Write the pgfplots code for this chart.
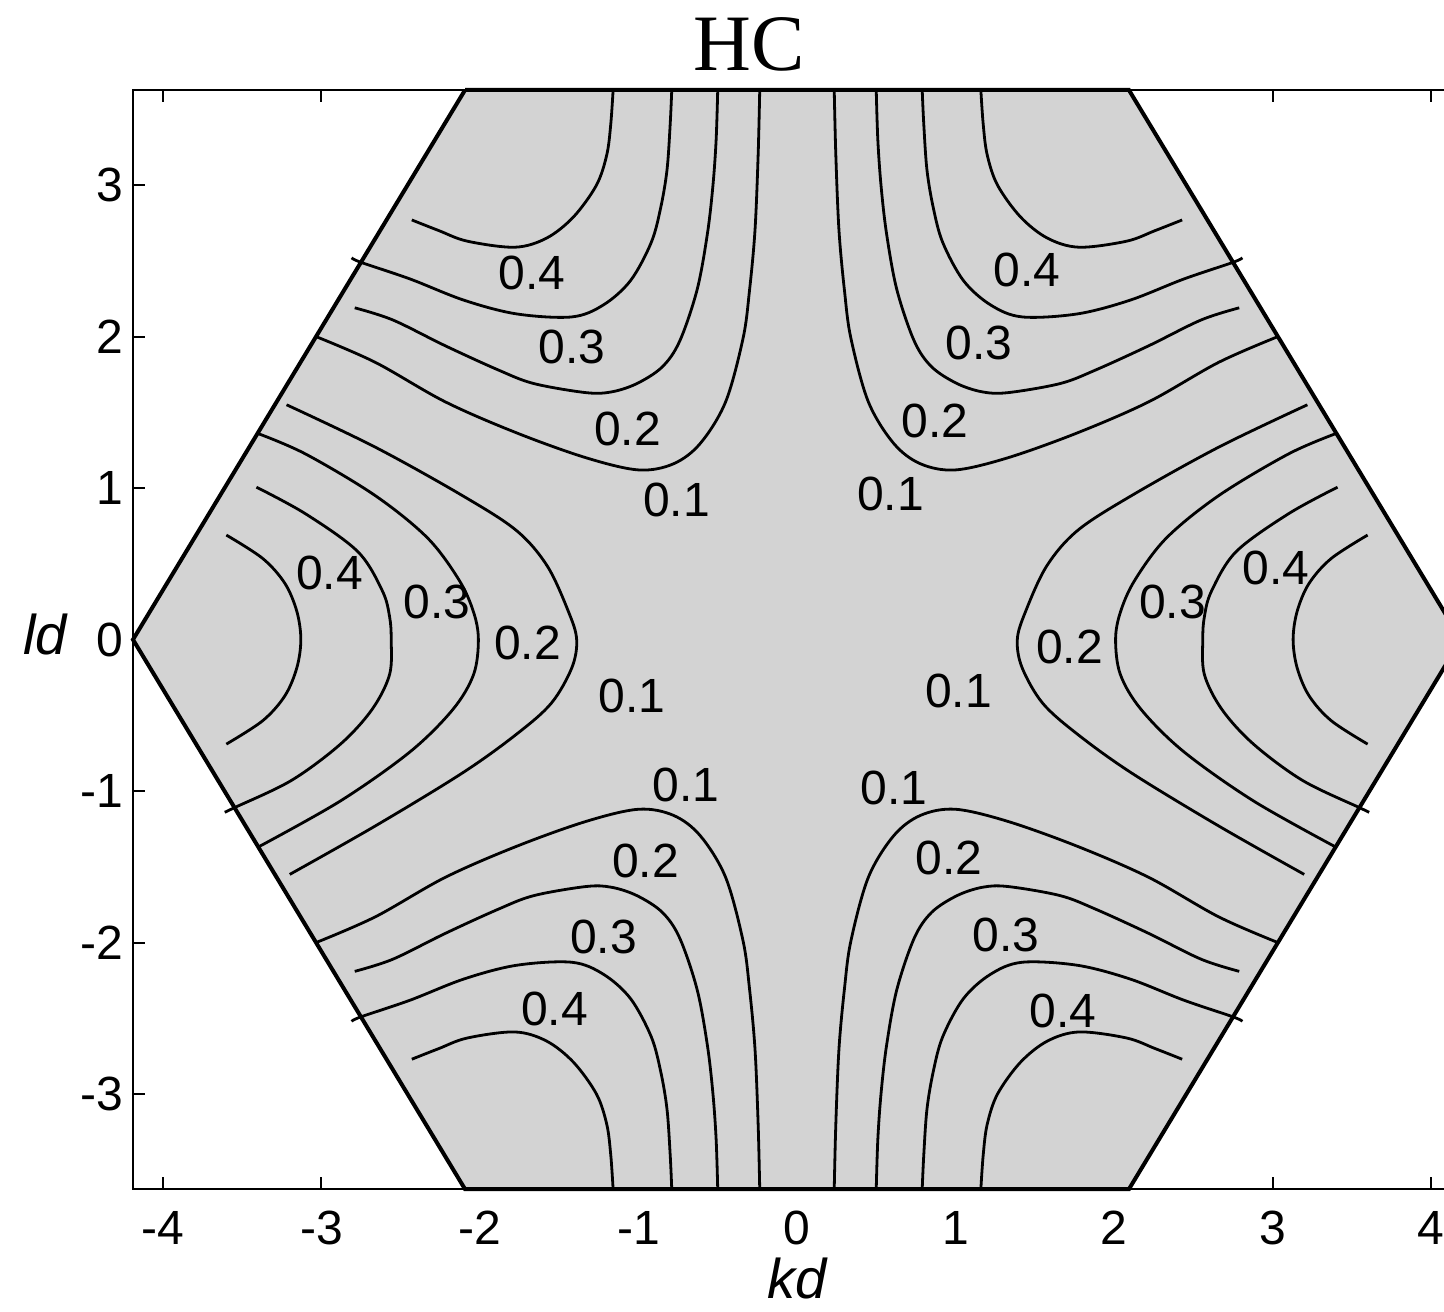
\documentclass[border=0pt]{standalone}
\usepackage{fontspec}
\setmainfont{Liberation Sans}
\newfontfamily\titlefont{Liberation Serif}
\usepackage{pgfplots}
\pgfplotsset{compat=1.18}
\usepackage{pgfplotstable}

\definecolor{zonegray}{RGB}{211,211,211}

% Contours around the upper-left zone corner (x<0, y>0); the other three
% corners are the mirror images.
\pgfplotstableread{
x y
-1.160 3.628
-1.175 3.400
-1.200 3.200
-1.265 3.000
-1.410 2.790
-1.580 2.650
-1.780 2.590
-2.080 2.630
-2.260 2.700
-2.430 2.770
}\tlfour
\pgfplotstableread{
x y
-0.790 3.628
-0.800 3.400
-0.820 3.100
-0.860 2.850
-0.920 2.620
-1.050 2.370
-1.220 2.210
-1.420 2.130
-1.770 2.150
-2.100 2.240
-2.440 2.380
-2.750 2.490
-2.810 2.520
}\tlthree
\pgfplotstableread{
x y
-0.500 3.628
-0.510 3.300
-0.530 3.000
-0.565 2.680
-0.630 2.310
-0.740 1.970
-0.850 1.800
-1.010 1.690
-1.170 1.635
-1.330 1.630
-1.660 1.690
-1.885 1.780
-2.220 1.940
-2.550 2.110
-2.790 2.190
}\tltwo
\pgfplotstableread{
x y
-0.235 3.628
-0.245 3.200
-0.265 2.700
-0.300 2.300
-0.340 1.990
-0.450 1.570
-0.610 1.295
-0.780 1.160
-1.000 1.120
-1.330 1.200
-1.770 1.365
-2.220 1.570
-2.660 1.830
-3.034 2.000
}\tlone

% Contours around the left zone corner (x<0); mirrored to the right corner.
\pgfplotstableread{
x y
-3.600 0.690
-3.370 0.535
-3.230 0.370
-3.155 0.185
-3.130 0.000
-3.155 -0.185
-3.230 -0.370
-3.370 -0.535
-3.600 -0.690
}\lfour
\pgfplotstableread{
x y
-3.410 1.006
-3.100 0.830
-2.770 0.580
-2.615 0.320
-2.570 0.150
-2.560 0.000
-2.570 -0.230
-2.680 -0.460
-2.880 -0.690
-3.190 -0.930
-3.550 -1.110
-3.610 -1.140
}\lthree
\pgfplotstableread{
x y
-3.400 1.360
-3.100 1.225
-2.660 0.950
-2.330 0.670
-2.130 0.390
-2.040 0.180
-2.010 0.000
-2.040 -0.230
-2.170 -0.460
-2.440 -0.740
-2.880 -1.065
-3.400 -1.370
}\ltwo
\pgfplotstableread{
x y
-3.220 1.550
-2.660 1.270
-2.110 0.950
-1.770 0.720
-1.575 0.485
-1.440 0.180
-1.390 0.000
-1.420 -0.185
-1.550 -0.420
-1.770 -0.625
-2.110 -0.880
-2.660 -1.230
-3.200 -1.550
}\lone

\pgfplotsset{
  contour/.style={black, line width=0.7pt, smooth, tension=0.55},
}
\newcommand{\fourfold}[1]{%
  \addplot[contour] table[x=x, y=y] {#1};
  \addplot[contour] table[x expr=-\thisrow{x}, y=y] {#1};
  \addplot[contour] table[x=x, y expr=-\thisrow{y}] {#1};
  \addplot[contour] table[x expr=-\thisrow{x}, y expr=-\thisrow{y}] {#1};
}
\newcommand{\twofold}[1]{%
  \addplot[contour] table[x=x, y=y] {#1};
  \addplot[contour] table[x expr=-\thisrow{x}, y=y] {#1};
}

\begin{document}
\begin{tikzpicture}
\begin{axis}[
  width=332pt, height=274.8pt, scale only axis,
  xmin=-4.189, xmax=4.189, ymin=-3.628, ymax=3.628,
  clip=false,
  xtick={-4,-3,-2,-1,0,1,2,3,4},
  xticklabels={-4,-3,-2,-1,0,1,2,3,4},
  ytick={-3,-2,-1,0,1,2,3},
  yticklabels={-3,-2,-1,0,1,2,3},
  tick align=inside,
  major tick length=3pt,
  tick style={black, line width=0.5pt},
  axis line style={black, line width=0.6pt},
  ticklabel style={font=\fontsize{12}{14}\selectfont},
  xticklabel style={yshift=-2pt},
  yticklabel style={xshift=1pt},
  xlabel={\itshape kd},
  ylabel={\itshape ld},
  label style={font=\fontsize{14}{16}\selectfont},
  xlabel style={at={(axis description cs:0.5,-0.081)}, anchor=center},
  ylabel style={rotate=-90, at={(axis description cs:-0.066,0.505)}, anchor=center},
]
% first Brillouin zone of the honeycomb lattice
\addplot[fill=zonegray, draw=none] coordinates {
  (-4.189,0) (-2.094,3.628) (2.094,3.628) (4.189,0) (2.094,-3.628) (-2.094,-3.628)
} -- cycle;

\fourfold{\tlfour}
\fourfold{\tlthree}
\fourfold{\tltwo}
\fourfold{\tlone}
\twofold{\lfour}
\twofold{\lthree}
\twofold{\ltwo}
\twofold{\lone}

% zone boundary
\addplot[black, line width=1pt] coordinates {
  (-2.094,3.628) (-4.189,0) (-2.094,-3.628) (2.094,-3.628) (4.189,0) (2.094,3.628) (-2.094,3.628)
};

% contour labels
\begin{scope}[every node/.style={font=\fontsize{12}{14}\selectfont, inner sep=0pt}]
\node at (axis cs:-1.67,2.42) {0.4};
\node at (axis cs:-1.42,1.93) {0.3};
\node at (axis cs:-1.07,1.39) {0.2};
\node at (axis cs:-0.76,0.92) {0.1};
\node at (axis cs:1.45,2.44) {0.4};
\node at (axis cs:1.15,1.96) {0.3};
\node at (axis cs:0.87,1.44) {0.2};
\node at (axis cs:0.59,0.96) {0.1};
\node at (axis cs:-2.95,0.44) {0.4};
\node at (axis cs:-2.27,0.245) {0.3};
\node at (axis cs:-1.70,-0.02) {0.2};
\node at (axis cs:-1.04,-0.37) {0.1};
\node at (axis cs:3.02,0.475) {0.4};
\node at (axis cs:2.37,0.245) {0.3};
\node at (axis cs:1.72,-0.05) {0.2};
\node at (axis cs:1.02,-0.34) {0.1};
\node at (axis cs:-0.70,-0.96) {0.1};
\node at (axis cs:-0.955,-1.46) {0.2};
\node at (axis cs:-1.22,-1.96) {0.3};
\node at (axis cs:-1.53,-2.44) {0.4};
\node at (axis cs:0.61,-0.98) {0.1};
\node at (axis cs:0.96,-1.44) {0.2};
\node at (axis cs:1.32,-1.95) {0.3};
\node at (axis cs:1.68,-2.45) {0.4};
\end{scope}

% title
\node[font=\fontsize{20}{22}\selectfont\titlefont, anchor=base, inner sep=0pt]
  at (axis description cs:0.464,1.018) {HC};

\coordinate (bbsw) at (axis cs:-5.028,-4.438);
\coordinate (bbne) at (axis cs:4.082,4.222);
\end{axis}
\pgfresetboundingbox
\path[use as bounding box] (bbsw) rectangle (bbne);
\end{tikzpicture}
\end{document}
